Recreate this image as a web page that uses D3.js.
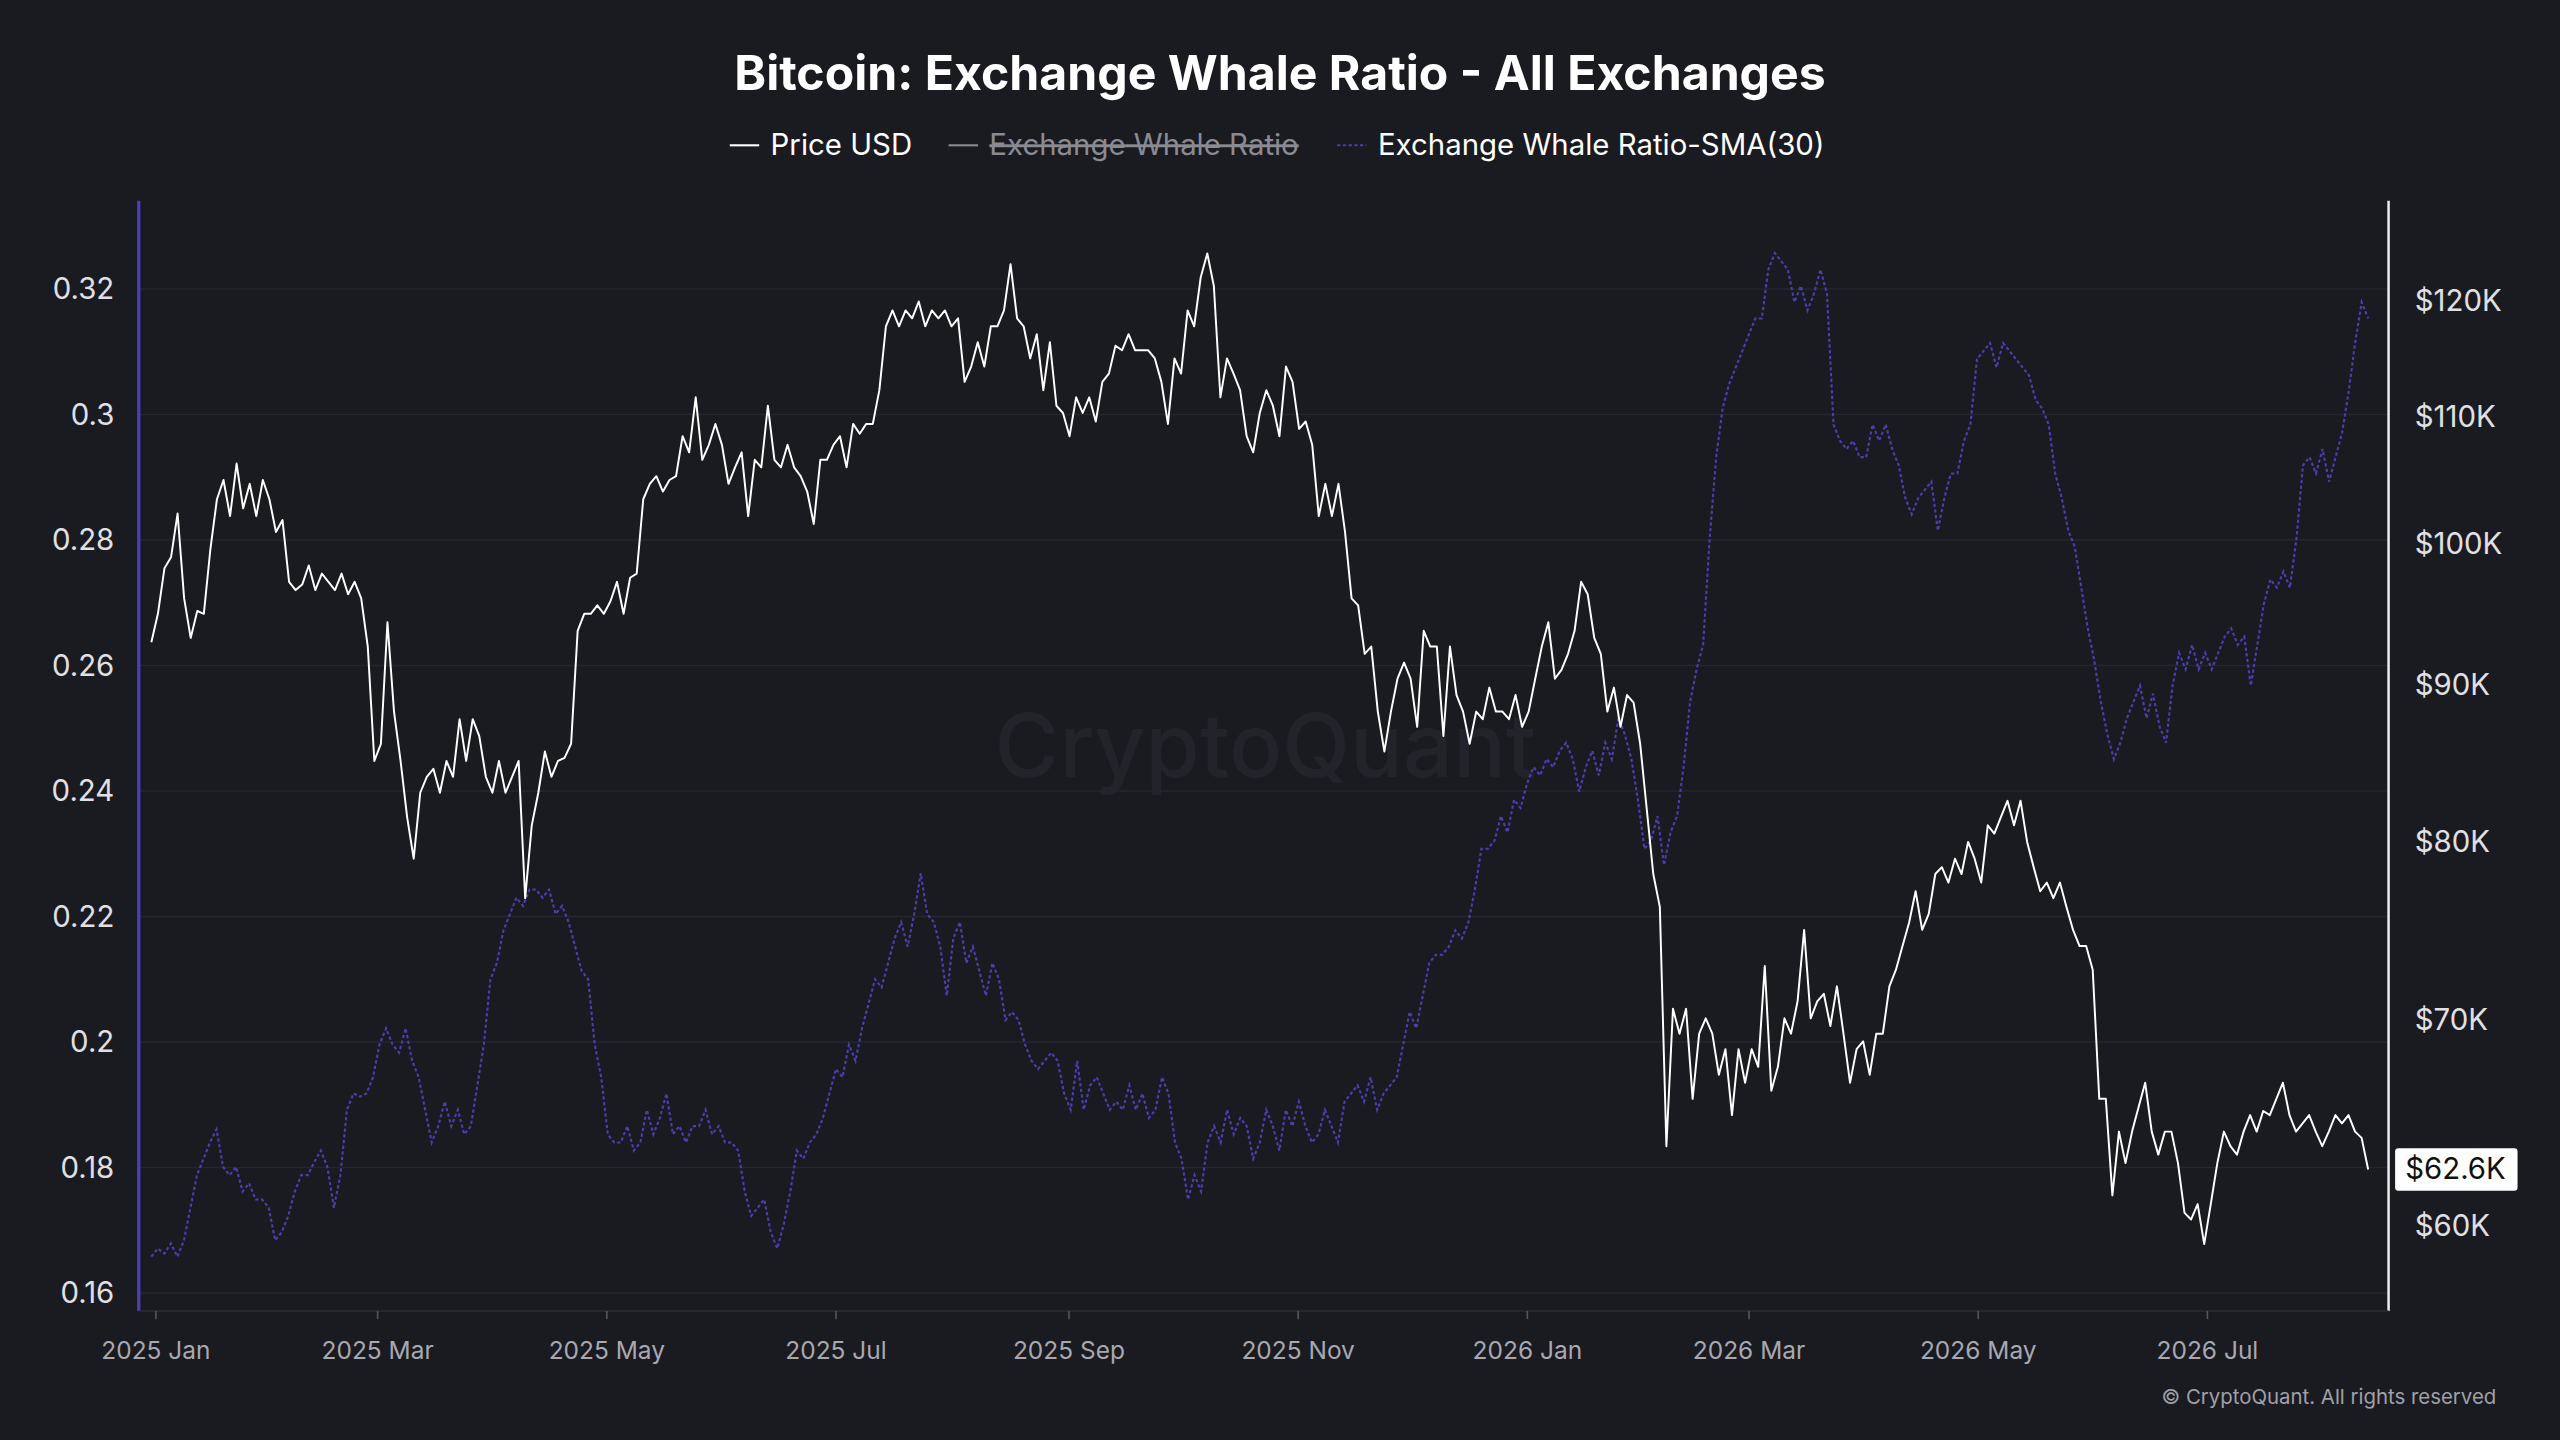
<!DOCTYPE html>
<html>
<head>
<meta charset="utf-8">
<script src="https://cdn.jsdelivr.net/npm/d3@7"></script>
<style>
  html, body { margin: 0; padding: 0; background: #1a1a21; }
  svg { display: block; font-family: Inter, "Noto Sans", sans-serif; }
</style>
</head>
<body>
<svg id="chart"></svg>
<script>
// Price USD in $K, sampled evenly from 2024-12-31 to 2026-08-13
const priceK = [92.9,94.9,98.2,99.0,102.3,96.0,93.2,95.1,94.9,99.6,103.4,104.9,102.1,106.2,102.7,104.6,102.1,104.9,103.4,100.9,
  101.8,97.2,96.6,97.0,98.4,96.6,97.8,97.2,96.6,97.8,96.3,97.2,96.0,92.6,85.0,86.1,94.3,88.2,85.0,81.5,
  79.0,83.0,84.0,84.5,83.0,85.0,84.0,87.7,85.0,87.7,86.6,84.0,83.0,85.0,83.0,84.0,85.0,76.7,81.0,83.0,
  85.6,84.0,85.0,85.2,86.1,93.7,94.9,94.9,95.5,94.9,95.8,97.2,94.9,97.5,97.8,103.4,104.6,105.2,104.0,104.9,
  105.2,108.4,107.1,111.6,106.5,107.7,109.4,107.7,104.6,105.9,107.1,102.1,106.5,105.9,110.9,106.5,105.9,107.7,105.9,105.2,
  104.0,101.5,106.5,106.5,107.7,108.4,105.9,109.4,108.6,109.4,109.4,112.2,117.7,119.1,117.7,119.1,118.4,119.9,117.7,119.1,
  118.4,119.1,117.7,118.4,112.9,114.2,116.3,114.2,117.7,117.7,119.1,123.3,118.4,117.7,114.9,117.0,112.2,116.3,110.9,110.3,
  108.4,111.6,110.3,111.6,109.6,112.9,113.6,116.0,115.6,117.0,115.6,115.6,115.6,114.9,112.9,109.4,114.9,113.6,119.1,117.7,
  122.1,124.3,121.3,111.6,114.9,113.6,112.2,108.4,107.1,110.3,112.2,110.9,108.4,114.2,112.9,109.0,109.6,107.7,102.1,104.6,
  102.1,104.6,100.9,96.0,95.5,92.1,92.6,88.2,85.6,88.2,90.4,91.5,90.4,87.2,93.7,92.6,92.6,86.6,92.6,89.3,
  88.2,86.1,88.2,87.7,89.8,88.2,88.2,87.7,89.3,87.2,88.2,90.4,92.6,94.3,90.4,91.0,92.1,93.7,97.2,96.3,
  93.2,92.1,88.2,89.8,87.2,89.3,88.8,86.1,82.0,78.1,76.2,63.7,70.6,69.3,70.6,66.0,69.3,70.1,69.3,67.2,
  68.5,65.2,68.5,66.8,68.5,67.6,72.9,66.4,67.6,70.1,69.3,71.0,74.9,70.1,71.0,71.4,69.7,71.8,69.3,66.8,
  68.5,68.9,67.2,69.3,69.3,71.8,72.7,74.0,75.3,77.1,74.9,75.8,78.1,78.5,77.6,79.0,78.1,80.0,79.0,77.6,
  81.0,80.5,81.5,82.5,81.0,82.5,80.0,78.5,77.1,77.6,76.7,77.6,76.2,74.9,74.0,74.0,72.7,66.0,66.0,61.4,
  64.4,62.9,64.4,65.6,66.8,64.4,63.3,64.4,64.4,62.9,60.6,60.3,61.0,59.2,61.0,62.9,64.4,63.7,63.3,64.4,
  65.2,64.4,65.4,65.2,66.0,66.8,65.2,64.4,64.8,65.2,64.4,63.7,64.4,65.2,64.8,65.2,64.4,64.1,62.6];

// Exchange Whale Ratio SMA(30), sampled evenly over the same span
const whaleSma = [.1658,.1671,.1663,.1679,.1658,.1684,.1736,.1788,.1814,.1840,.1861,.1801,.1788,.1801,.1762,.1775,.1749,.1749,.1736,.1684,
  .1697,.1723,.1762,.1788,.1788,.1809,.1827,.1801,.1736,.1788,.1892,.1918,.1913,.1918,.1944,.1996,.2022,.1996,.1983,.2022,
  .1970,.1944,.1892,.1840,.1866,.1905,.1866,.1892,.1853,.1866,.1931,.1996,.2100,.2126,.2178,.2204,.2230,.2217,.2243,.2243,
  .2230,.2243,.2204,.2217,.2191,.2152,.2113,.2100,.1996,.1944,.1853,.1840,.1840,.1866,.1827,.1840,.1892,.1853,.1879,.1918,
  .1853,.1866,.1840,.1866,.1866,.1892,.1853,.1866,.1840,.1840,.1827,.1762,.1723,.1736,.1749,.1697,.1671,.1710,.1762,.1827,
  .1814,.1840,.1853,.1879,.1918,.1957,.1944,.1996,.1970,.2022,.2061,.2100,.2087,.2126,.2165,.2191,.2152,.2204,.2269,.2204,
  .2191,.2152,.2074,.2165,.2191,.2126,.2152,.2113,.2074,.2126,.2100,.2035,.2048,.2035,.1996,.1970,.1957,.1970,.1983,.1970,
  .1918,.1892,.1970,.1892,.1931,.1944,.1918,.1892,.1905,.1892,.1931,.1892,.1918,.1879,.1892,.1944,.1918,.1840,.1814,.1749,
  .1788,.1762,.1840,.1866,.1840,.1892,.1853,.1879,.1866,.1814,.1840,.1892,.1866,.1827,.1892,.1866,.1905,.1866,.1840,.1853,
  .1892,.1866,.1840,.1905,.1918,.1931,.1905,.1944,.1892,.1918,.1931,.1944,.1996,.2048,.2022,.2074,.2126,.2139,.2139,.2152,
  .2178,.2165,.2191,.2243,.2308,.2308,.2321,.2360,.2334,.2386,.2373,.2412,.2438,.2425,.2451,.2438,.2464,.2477,.2451,.2399,
  .2438,.2464,.2425,.2477,.2451,.2516,.2490,.2451,.2386,.2308,.2321,.2360,.2282,.2334,.2360,.2438,.2542,.2594,.2633,.2802,
  .2932,.3010,.3049,.3075,.3101,.3127,.3153,.3153,.3231,.3257,.3244,.3231,.3179,.3205,.3166,.3192,.3231,.3192,.2984,.2958,
  .2945,.2958,.2932,.2932,.2984,.2958,.2984,.2945,.2919,.2867,.2841,.2867,.2880,.2893,.2815,.2867,.2906,.2906,.2958,.2984,
  .3088,.3101,.3114,.3075,.3114,.3101,.3088,.3075,.3062,.3023,.3010,.2984,.2906,.2867,.2815,.2789,.2724,.2659,.2607,.2542,
  .2490,.2451,.2477,.2516,.2542,.2568,.2516,.2555,.2503,.2477,.2568,.2620,.2594,.2633,.2594,.2620,.2594,.2620,.2646,.2659,
  .2633,.2646,.2568,.2633,.2698,.2737,.2724,.2750,.2724,.2802,.2919,.2932,.2906,.2945,.2893,.2932,.2971,.3036,.3114,.3179,.3153];

const leftTicks = [0.16, 0.18, 0.2, 0.22, 0.24, 0.26, 0.28, 0.3, 0.32];
const rightTicks = [60, 70, 80, 90, 100, 110, 120];
const monthTicks = ["2025-01-01","2025-03-01","2025-05-01","2025-07-01","2025-09-01","2025-11-01",
  "2026-01-01","2026-03-01","2026-05-01","2026-07-01"];
const startDate = new Date("2024-12-31");
const endDate = new Date("2026-08-13");

const W = 1568, H = 882;
const svg = d3.select("#chart")
  .attr("width", 2560).attr("height", 1440)
  .attr("viewBox", `0 0 ${W} ${H}`);

svg.append("rect").attr("width", W).attr("height", H).attr("fill", "#1a1a21");

const plot = { left: 85, right: 1463, top: 123, bottom: 803 };

const x = d3.scaleTime()
  .domain([new Date("2025-01-01"), new Date("2026-01-01")])
  .range([95, 935]);
const yL = d3.scaleLinear().domain([0.16, 0.32]).range([792, 177]);
const yR = d3.scaleLog().domain([60, 120]).range([751, 184]);

function spanDates(n) {
  const step = (endDate - startDate) / (n - 1);
  return d3.range(n).map(i => new Date(+startDate + i * step));
}
const priceDates = spanDates(priceK.length);
const smaDates = spanDates(whaleSma.length);

// watermark
svg.append("text")
  .attr("x", 775).attr("y", 476)
  .attr("text-anchor", "middle")
  .style("font-size", "54px").style("font-weight", 500)
  .style("fill", "#23232b")
  .text("CryptoQuant");

// grid
svg.append("g").selectAll("line")
  .data(leftTicks)
  .join("line")
  .attr("x1", plot.left).attr("x2", plot.right)
  .attr("y1", d => yL(d)).attr("y2", d => yL(d))
  .attr("stroke", "#262630").attr("stroke-width", 1);

// left axis
const gL = svg.append("g").attr("transform", `translate(${plot.left},0)`)
  .call(d3.axisLeft(yL).tickValues(leftTicks).tickSize(0).tickPadding(15)
    .tickFormat(d => d3.format("~g")(+d.toFixed(2))));
gL.select(".domain").remove();
gL.append("line").attr("y1", plot.top).attr("y2", plot.bottom).attr("stroke", "#4b3fb5").attr("stroke-width", 2);
gL.selectAll("text").style("font-size", "18px").style("fill", "#e0e0e4").style("font-family", "Inter, sans-serif");

// right axis
const gR = svg.append("g").attr("transform", `translate(${plot.right},0)`)
  .call(d3.axisRight(yR).tickValues(rightTicks).tickSize(0).tickPadding(16)
    .tickFormat(d => `$${d}K`));
gR.select(".domain").remove();
gR.append("line").attr("y1", plot.top).attr("y2", plot.bottom).attr("stroke", "#f0f0f0").attr("stroke-width", 1.5);
gR.selectAll("text").style("font-size", "18px").style("fill", "#e0e0e4").style("font-family", "Inter, sans-serif");

// bottom axis
svg.append("line").attr("x1", plot.left).attr("x2", plot.right)
  .attr("y1", plot.bottom).attr("y2", plot.bottom).attr("stroke", "#2c2c36");
const gX = svg.append("g").attr("transform", `translate(0,${plot.bottom})`)
  .call(d3.axisBottom(x).tickValues(monthTicks.map(d => new Date(d))).tickSize(5).tickPadding(14)
    .tickFormat(d3.timeFormat("%Y %b")));
gX.select(".domain").remove();
gX.selectAll("line").attr("stroke", "#555");
gX.selectAll("text").style("font-size", "15px").style("fill", "#a8a8b0").style("font-family", "Inter, sans-serif");

// SMA line
svg.append("path")
  .datum(whaleSma)
  .attr("fill", "none")
  .attr("stroke", "#4a3fae")
  .attr("stroke-width", 1.3)
  .attr("stroke-dasharray", "2,1.5")
  .attr("d", d3.line().x((d, i) => x(smaDates[i])).y(d => yL(d)));

// price line
svg.append("path")
  .datum(priceK)
  .attr("fill", "none")
  .attr("stroke", "#ffffff")
  .attr("stroke-width", 1.2)
  .attr("stroke-linejoin", "round")
  .attr("d", d3.line().x((d, i) => x(priceDates[i])).y(d => yR(d)));

// last value label
const last = priceK[priceK.length - 1];
const ly = yR(last);
svg.append("rect").attr("x", plot.right + 4).attr("y", ly - 13).attr("width", 75).attr("height", 26)
  .attr("rx", 2).attr("fill", "#ffffff");
svg.append("text").attr("x", plot.right + 41).attr("y", ly + 6).attr("text-anchor", "middle")
  .style("font-size", "18px").style("fill", "#111").text(`$${last}K`);

// title
svg.append("text").attr("x", 784).attr("y", 55).attr("text-anchor", "middle")
  .style("font-size", "29.5px").style("font-weight", 700).style("fill", "#ffffff")
  .text("Bitcoin: Exchange Whale Ratio - All Exchanges");

// legend
const legend = svg.append("g").style("font-size", "18px");
function legendItem(x0, label, color, textColor, dashed, strike) {
  legend.append("line").attr("x1", x0).attr("x2", x0 + 18).attr("y1", 89).attr("y2", 89)
    .attr("stroke", color).attr("stroke-width", 1.3)
    .attr("stroke-dasharray", dashed ? "2,1.5" : null);
  const t = legend.append("text").attr("x", x0 + 25).attr("y", 95)
    .style("fill", textColor).text(label);
  if (strike) t.style("text-decoration", "line-through");
}
legendItem(447, "Price USD", "#ffffff", "#ffffff", false, false);
legendItem(581, "Exchange Whale Ratio", "#8a8a92", "#8a8a92", false, true);
legendItem(819, "Exchange Whale Ratio-SMA(30)", "#4a3fae", "#ffffff", true, false);

// copyright
svg.append("text").attr("x", 1529).attr("y", 860).attr("text-anchor", "end")
  .style("font-size", "12.5px").style("fill", "#a0a0a8")
  .text("© CryptoQuant. All rights reserved");
</script>
</body>
</html>
